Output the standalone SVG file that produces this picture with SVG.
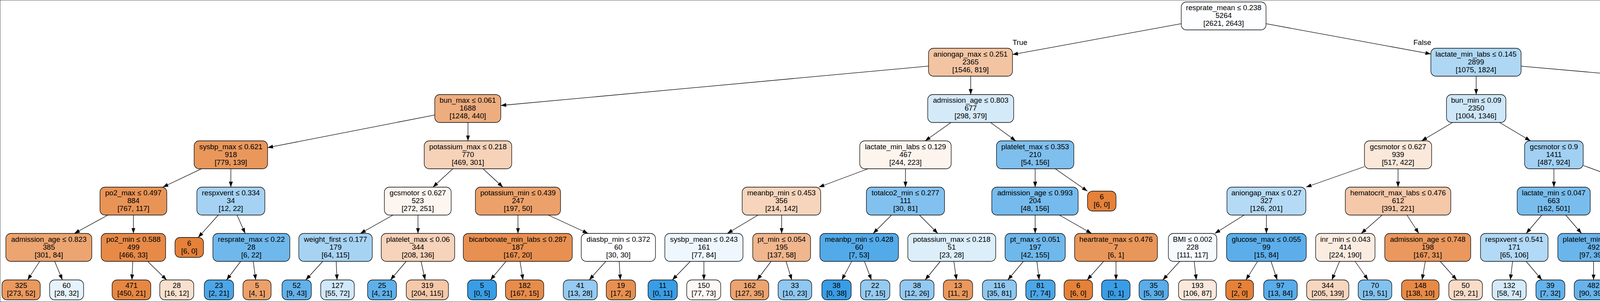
<svg xmlns="http://www.w3.org/2000/svg" width="6077" height="773" viewBox="0 0 6077 773">
<style>
rect{stroke:#000;stroke-width:1.3}
text{font-family:"Liberation Sans",Arial,Helvetica,sans-serif;font-size:18.7px;text-anchor:middle;fill:#000}
#edges line{stroke:#000;stroke-width:1.3;marker-end:url(#ah)}
</style>
<defs>
<marker id="ah" markerUnits="userSpaceOnUse" markerWidth="14" markerHeight="10" refX="14" refY="5" orient="auto"><path d="M0,0 L14,5 L0,10 z" fill="#000"/></marker>
</defs>
<rect x="0" y="0" width="6077" height="773" fill="#fff" stroke="none"/>
<g id="edges">
<line x1="3024" y1="60.6" x2="2592" y2="139.6"/>
<line x1="3241" y1="60.7" x2="3663" y2="138.1"/>
<line x1="2377" y1="169.2" x2="1282" y2="270"/>
<line x1="2485" y1="195" x2="2485" y2="242"/>
<line x1="3779" y1="195" x2="3779" y2="242"/>
<line x1="3894" y1="169.4" x2="5051" y2="271"/>
<line x1="1113" y1="294.3" x2="685" y2="377.9"/>
<line x1="1198" y1="313.5" x2="1198" y2="360.5"/>
<line x1="2434.6" y1="313.5" x2="2368.4" y2="360.5"/>
<line x1="2535.8" y1="313.5" x2="2600.2" y2="360.5"/>
<line x1="3718.7" y1="313.5" x2="3639.3" y2="360.5"/>
<line x1="3839" y1="313.5" x2="3918" y2="360.5"/>
<line x1="5128.5" y1="313.5" x2="5128.5" y2="360.5"/>
<line x1="5206" y1="296.2" x2="5490" y2="363.9"/>
<line x1="515.7" y1="432" x2="416.8" y2="479"/>
<line x1="591" y1="432" x2="591" y2="479"/>
<line x1="1159.2" y1="432" x2="1108.3" y2="479"/>
<line x1="1236.6" y1="432" x2="1287.4" y2="479"/>
<line x1="2222.2" y1="432" x2="2096.3" y2="479"/>
<line x1="2318" y1="432" x2="2318" y2="479"/>
<line x1="2650" y1="432" x2="2650" y2="479"/>
<line x1="2701.4" y1="432" x2="2783.8" y2="489.3"/>
<line x1="3493" y1="426.5" x2="3343.5" y2="479"/>
<line x1="3579" y1="432" x2="3579" y2="479"/>
<line x1="3978" y1="432" x2="3978" y2="479"/>
<line x1="4053" y1="423.5" x2="4206" y2="479"/>
<line x1="5094" y1="432" x2="5048.5" y2="479"/>
<line x1="5163.5" y1="432" x2="5209.5" y2="479"/>
<line x1="5626" y1="432" x2="5626" y2="479"/>
<line x1="5687.6" y1="432" x2="5769.4" y2="479"/>
<line x1="276.2" y1="550.5" x2="190.3" y2="597.5"/>
<line x1="341.5" y1="550.5" x2="341.5" y2="597.5"/>
<line x1="558.9" y1="550.5" x2="507.4" y2="607.8"/>
<line x1="606.8" y1="550.5" x2="627.7" y2="597.5"/>
<line x1="1006" y1="550.5" x2="922.5" y2="597.5"/>
<line x1="1070" y1="550.5" x2="1070" y2="597.5"/>
<line x1="1326" y1="550.5" x2="1326" y2="597.5"/>
<line x1="1403.5" y1="550.5" x2="1505.5" y2="597.5"/>
<line x1="1940.6" y1="550.5" x2="1861.9" y2="597.5"/>
<line x1="2001" y1="550.5" x2="2001" y2="597.5"/>
<line x1="2282.3" y1="550.5" x2="2235.3" y2="597.5"/>
<line x1="2353.8" y1="550.5" x2="2400.8" y2="597.5"/>
<line x1="2650" y1="550.5" x2="2650" y2="597.5"/>
<line x1="2712.1" y1="550.5" x2="2794.4" y2="597.5"/>
<line x1="3185" y1="550.5" x2="3110" y2="597.5"/>
<line x1="3242" y1="550.5" x2="3242" y2="597.5"/>
<line x1="3538.3" y1="550.5" x2="3484.7" y2="597.5"/>
<line x1="3601.9" y1="550.5" x2="3632.1" y2="597.5"/>
<line x1="3947" y1="550.5" x2="3907" y2="597.5"/>
<line x1="4008.3" y1="550.5" x2="4048.7" y2="597.5"/>
<line x1="4304.5" y1="550.5" x2="4304.5" y2="597.5"/>
<line x1="4377.8" y1="550.5" x2="4474.2" y2="597.5"/>
<line x1="4950.3" y1="550.5" x2="4866.7" y2="597.5"/>
<line x1="5017.9" y1="550.5" x2="5023.1" y2="597.5"/>
<line x1="5240.4" y1="550.5" x2="5235.1" y2="597.5"/>
<line x1="5310.1" y1="550.5" x2="5396.4" y2="597.5"/>
<line x1="5626" y1="550.5" x2="5626" y2="607.8"/>
<line x1="5655" y1="550.5" x2="5701.3" y2="607.8"/>
<line x1="5829.4" y1="550.5" x2="5826" y2="607.8"/>
<line x1="5871.9" y1="550.5" x2="5925.1" y2="597.5"/>
<line x1="101.7" y1="669" x2="70.6" y2="716.5"/>
<line x1="140" y1="669" x2="159.8" y2="716.5"/>
<line x1="339.9" y1="669" x2="337.7" y2="716.5"/>
<line x1="378" y1="669" x2="426.5" y2="716.5"/>
<line x1="616.2" y1="669" x2="580" y2="716.5"/>
<line x1="648.3" y1="669" x2="654.6" y2="716.5"/>
<line x1="826.3" y1="669" x2="782.8" y2="716.5"/>
<line x1="860.6" y1="669" x2="862.8" y2="716.5"/>
<line x1="1039.8" y1="669" x2="999.6" y2="716.5"/>
<line x1="1077.9" y1="669" x2="1088.4" y2="716.5"/>
<line x1="1295.4" y1="669" x2="1255.5" y2="716.5"/>
<line x1="1331.3" y1="669" x2="1338.9" y2="716.5"/>
<line x1="1550.9" y1="669" x2="1508.4" y2="716.5"/>
<line x1="1585.1" y1="669" x2="1588" y2="716.5"/>
<line x1="1767.3" y1="669" x2="1721.2" y2="716.5"/>
<line x1="1802" y1="669" x2="1802" y2="716.5"/>
<line x1="1974" y1="669" x2="1938.2" y2="716.5"/>
<line x1="2012.2" y1="669" x2="2027" y2="716.5"/>
<line x1="2180.4" y1="669" x2="2155.1" y2="716.5"/>
<line x1="2213" y1="669" x2="2230.9" y2="716.5"/>
<line x1="2407.2" y1="669" x2="2368.4" y2="716.5"/>
<line x1="2441.8" y1="669" x2="2448.7" y2="716.5"/>
<line x1="2619.9" y1="669" x2="2580" y2="716.5"/>
<line x1="2654.4" y1="669" x2="2660.3" y2="716.5"/>
<line x1="2825.3" y1="669" x2="2783.1" y2="716.5"/>
<line x1="2857" y1="669" x2="2857" y2="716.5"/>
<line x1="3020.3" y1="669" x2="2976.8" y2="716.5"/>
<line x1="3057.1" y1="669" x2="3062.6" y2="716.5"/>
<line x1="3219.5" y1="669" x2="3189.6" y2="716.5"/>
<line x1="3253.8" y1="669" x2="3269.6" y2="716.5"/>
<line x1="3429.2" y1="669" x2="3409.6" y2="716.5"/>
<line x1="3469" y1="669" x2="3502.2" y2="716.5"/>
<line x1="3648.8" y1="669" x2="3640.5" y2="716.5"/>
<line x1="3686.9" y1="669" x2="3729.3" y2="716.5"/>
<line x1="3872.2" y1="669" x2="3866.5" y2="716.5"/>
<line x1="3906.9" y1="669" x2="3947.3" y2="716.5"/>
<line x1="4079.5" y1="669" x2="4079.5" y2="716.5"/>
<line x1="4115.5" y1="669" x2="4163.3" y2="716.5"/>
<line x1="4299.7" y1="669" x2="4293.4" y2="716.5"/>
<line x1="4333.8" y1="669" x2="4372.6" y2="716.5"/>
<line x1="4538.5" y1="669" x2="4526.4" y2="716.5"/>
<line x1="4582" y1="669" x2="4627.9" y2="716.5"/>
<line x1="4796.6" y1="669" x2="4788.1" y2="716.5"/>
<line x1="4828" y1="669" x2="4861.2" y2="716.5"/>
<line x1="5024.9" y1="669" x2="5022" y2="716.5"/>
<line x1="5056.9" y1="669" x2="5096.7" y2="716.5"/>
<line x1="5228.5" y1="669" x2="5225.3" y2="716.5"/>
<line x1="5260.8" y1="669" x2="5300.3" y2="716.5"/>
<line x1="5453.6" y1="669" x2="5442.5" y2="716.5"/>
<line x1="5485.5" y1="669" x2="5516.7" y2="716.5"/>
<line x1="5946.1" y1="669" x2="5920.3" y2="716.5"/>
<line x1="5984.6" y1="669" x2="6009.9" y2="716.5"/>
<text x="2611" y="115">True</text>
<text x="3641" y="115">False</text>
</g>
<g id="n0"><rect x="3024" y="5" width="217" height="71.5" rx="13" fill="#fdfeff"/><text><tspan x="3132.5" y="26">resprate_mean ≤ 0.238</tspan><tspan x="3132.5" y="46">5264</tspan><tspan x="3132.5" y="66">[2621, 2643]</tspan></text></g>
<g id="n1"><rect x="2377" y="123.5" width="215" height="71.5" rx="13" fill="#f3c4a2"/><text><tspan x="2484.5" y="144.5">aniongap_max ≤ 0.251</tspan><tspan x="2484.5" y="164.5">2365</tspan><tspan x="2484.5" y="184.5">[1546, 819]</tspan></text></g>
<g id="n2"><rect x="3663" y="123.5" width="231" height="71.5" rx="13" fill="#aed7f4"/><text><tspan x="3778.5" y="144.5">lactate_min_labs ≤ 0.145</tspan><tspan x="3778.5" y="164.5">2899</tspan><tspan x="3778.5" y="184.5">[1075, 1824]</tspan></text></g>
<g id="n3"><rect x="1113" y="242" width="169" height="71.5" rx="13" fill="#eead7f"/><text><tspan x="1197.5" y="263">bun_max ≤ 0.061</tspan><tspan x="1197.5" y="283">1688</tspan><tspan x="1197.5" y="303">[1248, 440]</tspan></text></g>
<g id="n4"><rect x="2375" y="242" width="220" height="71.5" rx="13" fill="#d5eaf9"/><text><tspan x="2485" y="263">admission_age ≤ 0.803</tspan><tspan x="2485" y="283">677</tspan><tspan x="2485" y="303">[298, 379]</tspan></text></g>
<g id="n5"><rect x="3703" y="242" width="152" height="71.5" rx="13" fill="#cde6f8"/><text><tspan x="3779" y="263">bun_min ≤ 0.09</tspan><tspan x="3779" y="283">2350</tspan><tspan x="3779" y="303">[1004, 1346]</tspan></text></g>
<g id="n6"><rect x="5051" y="242" width="155" height="71.5" rx="13" fill="#56ace9"/><text><tspan x="5128.5" y="263">ptt_min ≤ 0.142</tspan><tspan x="5128.5" y="283">549</tspan><tspan x="5128.5" y="303">[71, 478]</tspan></text></g>
<g id="n7"><rect x="497" y="360.5" width="188" height="71.5" rx="13" fill="#ea975c"/><text><tspan x="591" y="381.5">sysbp_max ≤ 0.621</tspan><tspan x="591" y="401.5">918</tspan><tspan x="591" y="421.5">[779, 139]</tspan></text></g>
<g id="n8"><rect x="1086" y="360.5" width="224" height="71.5" rx="13" fill="#f6d2b8"/><text><tspan x="1198" y="381.5">potassium_max ≤ 0.218</tspan><tspan x="1198" y="401.5">770</tspan><tspan x="1198" y="421.5">[469, 301]</tspan></text></g>
<g id="n9"><rect x="2201" y="360.5" width="234" height="71.5" rx="13" fill="#fdf4ee"/><text><tspan x="2318" y="381.5">lactate_min_labs ≤ 0.129</tspan><tspan x="2318" y="401.5">467</tspan><tspan x="2318" y="421.5">[244, 223]</tspan></text></g>
<g id="n10"><rect x="2551" y="360.5" width="198" height="71.5" rx="13" fill="#7ebfee"/><text><tspan x="2650" y="381.5">platelet_max ≤ 0.353</tspan><tspan x="2650" y="401.5">210</tspan><tspan x="2650" y="421.5">[54, 156]</tspan></text></g>
<g id="n11"><rect x="3493" y="360.5" width="172" height="71.5" rx="13" fill="#fae8db"/><text><tspan x="3579" y="381.5">gcsmotor ≤ 0.627</tspan><tspan x="3579" y="401.5">939</tspan><tspan x="3579" y="421.5">[517, 422]</tspan></text></g>
<g id="n12"><rect x="3903" y="360.5" width="150" height="71.5" rx="13" fill="#a1d0f3"/><text><tspan x="3978" y="381.5">gcsmotor ≤ 0.9</tspan><tspan x="3978" y="401.5">1411</tspan><tspan x="3978" y="421.5">[487, 924]</tspan></text></g>
<g id="n13"><rect x="5029" y="360.5" width="199" height="71.5" rx="13" fill="#70b8ec"/><text><tspan x="5128.5" y="381.5">platelet_max ≤ 0.181</tspan><tspan x="5128.5" y="401.5">238</tspan><tspan x="5128.5" y="421.5">[52, 186]</tspan></text></g>
<g id="n14"><rect x="5490" y="360.5" width="271" height="71.5" rx="13" fill="#46a3e7"/><text><tspan x="5625.5" y="381.5">hematocrit_max_labs ≤ 0.111</tspan><tspan x="5625.5" y="401.5">311</tspan><tspan x="5625.5" y="421.5">[19, 292]</tspan></text></g>
<g id="n15"><rect x="256" y="479" width="171" height="71.5" rx="13" fill="#e99457"/><text><tspan x="341.5" y="500">po2_max ≤ 0.497</tspan><tspan x="341.5" y="520">884</tspan><tspan x="341.5" y="540">[767, 117]</tspan></text></g>
<g id="n16"><rect x="504" y="479" width="174" height="71.5" rx="13" fill="#a5d2f3"/><text><tspan x="591" y="500">respxvent ≤ 0.334</tspan><tspan x="591" y="520">34</tspan><tspan x="591" y="540">[12, 22]</tspan></text></g>
<g id="n17"><rect x="984" y="479" width="171" height="71.5" rx="13" fill="#fdf5f0"/><text><tspan x="1069.5" y="500">gcsmotor ≤ 0.627</tspan><tspan x="1069.5" y="520">523</tspan><tspan x="1069.5" y="540">[272, 251]</tspan></text></g>
<g id="n18"><rect x="1217" y="479" width="218" height="71.5" rx="13" fill="#eca16b"/><text><tspan x="1326" y="500">potassium_min ≤ 0.439</tspan><tspan x="1326" y="520">247</tspan><tspan x="1326" y="540">[197, 50]</tspan></text></g>
<g id="n19"><rect x="1900" y="479" width="201" height="71.5" rx="13" fill="#f6d5bc"/><text><tspan x="2000.5" y="500">meanbp_min ≤ 0.453</tspan><tspan x="2000.5" y="520">356</tspan><tspan x="2000.5" y="540">[214, 142]</tspan></text></g>
<g id="n20"><rect x="2218" y="479" width="200" height="71.5" rx="13" fill="#82c1ef"/><text><tspan x="2318" y="500">totalco2_min ≤ 0.277</tspan><tspan x="2318" y="520">111</tspan><tspan x="2318" y="540">[30, 81]</tspan></text></g>
<g id="n21"><rect x="2539" y="479" width="221" height="71.5" rx="13" fill="#76bbed"/><text><tspan x="2649.5" y="500">admission_age ≤ 0.993</tspan><tspan x="2649.5" y="520">204</tspan><tspan x="2649.5" y="540">[48, 156]</tspan></text></g>
<g id="n22"><rect x="2784" y="489.25" width="73" height="51" rx="13" fill="#e58139"/><text><tspan x="2820.5" y="510">6</tspan><tspan x="2820.5" y="530">[6, 0]</tspan></text></g>
<g id="n23"><rect x="3141" y="479" width="202" height="71.5" rx="13" fill="#b5daf5"/><text><tspan x="3242" y="500">aniongap_max ≤ 0.27</tspan><tspan x="3242" y="520">327</tspan><tspan x="3242" y="540">[126, 201]</tspan></text></g>
<g id="n24"><rect x="3444" y="479" width="270" height="71.5" rx="13" fill="#f4c8a9"/><text><tspan x="3579" y="500">hematocrit_max_labs ≤ 0.476</tspan><tspan x="3579" y="520">612</tspan><tspan x="3579" y="540">[391, 221]</tspan></text></g>
<g id="n25"><rect x="3884" y="479" width="187" height="71.5" rx="13" fill="#79bded"/><text><tspan x="3977.5" y="500">lactate_min ≤ 0.047</tspan><tspan x="3977.5" y="520">663</tspan><tspan x="3977.5" y="540">[162, 501]</tspan></text></g>
<g id="n26"><rect x="4201" y="479" width="207" height="71.5" rx="13" fill="#d1e8f9"/><text><tspan x="4304.5" y="500">meanbp_mean ≤ 0.24</tspan><tspan x="4304.5" y="520">748</tspan><tspan x="4304.5" y="540">[325, 423]</tspan></text></g>
<g id="n27"><rect x="4904" y="479" width="220" height="71.5" rx="13" fill="#52a9e8"/><text><tspan x="5014" y="500">admission_age ≤ 0.456</tspan><tspan x="5014" y="520">123</tspan><tspan x="5014" y="540">[14, 109]</tspan></text></g>
<g id="n28"><rect x="5148" y="479" width="193" height="71.5" rx="13" fill="#9bcdf2"/><text><tspan x="5244.5" y="500">platelet_min ≤ 0.184</tspan><tspan x="5244.5" y="520">115</tspan><tspan x="5244.5" y="540">[38, 77]</tspan></text></g>
<g id="n29"><rect x="5530" y="479" width="192" height="71.5" rx="13" fill="#eeab7b"/><text><tspan x="5626" y="500">spo2_mean ≤ 0.983</tspan><tspan x="5626" y="520">4</tspan><tspan x="5626" y="540">[3, 1]</tspan></text></g>
<g id="n30"><rect x="5747" y="479" width="169" height="71.5" rx="13" fill="#44a2e6"/><text><tspan x="5831.5" y="500">pco2_max ≤ 0.01</tspan><tspan x="5831.5" y="520">307</tspan><tspan x="5831.5" y="540">[16, 291]</tspan></text></g>
<g id="n31"><rect x="15" y="597.5" width="220" height="71.5" rx="13" fill="#eca470"/><text><tspan x="125" y="618.5">admission_age ≤ 0.823</tspan><tspan x="125" y="638.5">385</tspan><tspan x="125" y="658.5">[301, 84]</tspan></text></g>
<g id="n32"><rect x="259" y="597.5" width="165" height="71.5" rx="13" fill="#e78a47"/><text><tspan x="341.5" y="618.5">po2_min ≤ 0.588</tspan><tspan x="341.5" y="638.5">499</tspan><tspan x="341.5" y="658.5">[466, 33]</tspan></text></g>
<g id="n33"><rect x="448" y="607.75" width="73" height="51" rx="13" fill="#e58139"/><text><tspan x="484.5" y="628.5">6</tspan><tspan x="484.5" y="648.5">[6, 0]</tspan></text></g>
<g id="n34"><rect x="545" y="597.5" width="197" height="71.5" rx="13" fill="#6fb8ec"/><text><tspan x="643.5" y="618.5">resprate_max ≤ 0.22</tspan><tspan x="643.5" y="638.5">28</tspan><tspan x="643.5" y="658.5">[6, 22]</tspan></text></g>
<g id="n35"><rect x="765" y="597.5" width="188" height="71.5" rx="13" fill="#a7d3f3"/><text><tspan x="859" y="618.5">weight_first ≤ 0.177</tspan><tspan x="859" y="638.5">179</tspan><tspan x="859" y="658.5">[64, 115]</tspan></text></g>
<g id="n36"><rect x="976" y="597.5" width="188" height="71.5" rx="13" fill="#f6d3ba"/><text><tspan x="1070" y="618.5">platelet_max ≤ 0.06</tspan><tspan x="1070" y="638.5">344</tspan><tspan x="1070" y="658.5">[208, 136]</tspan></text></g>
<g id="n37"><rect x="1186" y="597.5" width="279" height="71.5" rx="13" fill="#e89051"/><text><tspan x="1325.5" y="618.5">bicarbonate_min_labs ≤ 0.287</tspan><tspan x="1325.5" y="638.5">187</tspan><tspan x="1325.5" y="658.5">[167, 20]</tspan></text></g>
<g id="n38"><rect x="1488" y="597.5" width="190" height="71.5" rx="13" fill="#ffffff"/><text><tspan x="1583" y="618.5">diasbp_min ≤ 0.372</tspan><tspan x="1583" y="638.5">60</tspan><tspan x="1583" y="658.5">[30, 30]</tspan></text></g>
<g id="n39"><rect x="1702" y="597.5" width="200" height="71.5" rx="13" fill="#eef7fd"/><text><tspan x="1802" y="618.5">sysbp_mean ≤ 0.243</tspan><tspan x="1802" y="638.5">161</tspan><tspan x="1802" y="658.5">[77, 84]</tspan></text></g>
<g id="n40"><rect x="1927" y="597.5" width="148" height="71.5" rx="13" fill="#f0b68d"/><text><tspan x="2001" y="618.5">pt_min ≤ 0.054</tspan><tspan x="2001" y="638.5">195</tspan><tspan x="2001" y="658.5">[137, 58]</tspan></text></g>
<g id="n41"><rect x="2099" y="597.5" width="201" height="71.5" rx="13" fill="#53aae8"/><text><tspan x="2199.5" y="618.5">meanbp_min ≤ 0.428</tspan><tspan x="2199.5" y="638.5">60</tspan><tspan x="2199.5" y="658.5">[7, 53]</tspan></text></g>
<g id="n42"><rect x="2324" y="597.5" width="225" height="71.5" rx="13" fill="#dceefa"/><text><tspan x="2436.5" y="618.5">potassium_max ≤ 0.218</tspan><tspan x="2436.5" y="638.5">51</tspan><tspan x="2436.5" y="658.5">[23, 28]</tspan></text></g>
<g id="n43"><rect x="2573" y="597.5" width="154" height="71.5" rx="13" fill="#6fb8ec"/><text><tspan x="2650" y="618.5">pt_max ≤ 0.051</tspan><tspan x="2650" y="638.5">197</tspan><tspan x="2650" y="658.5">[42, 155]</tspan></text></g>
<g id="n44"><rect x="2751" y="597.5" width="212" height="71.5" rx="13" fill="#e9965a"/><text><tspan x="2857" y="618.5">heartrate_max ≤ 0.476</tspan><tspan x="2857" y="638.5">7</tspan><tspan x="2857" y="658.5">[6, 1]</tspan></text></g>
<g id="n45"><rect x="2991" y="597.5" width="124" height="71.5" rx="13" fill="#f5fafe"/><text><tspan x="3053" y="618.5">BMI ≤ 0.002</tspan><tspan x="3053" y="638.5">228</tspan><tspan x="3053" y="658.5">[111, 117]</tspan></text></g>
<g id="n46"><rect x="3140" y="597.5" width="204" height="71.5" rx="13" fill="#5caeea"/><text><tspan x="3242" y="618.5">glucose_max ≤ 0.055</tspan><tspan x="3242" y="638.5">99</tspan><tspan x="3242" y="658.5">[15, 84]</tspan></text></g>
<g id="n47"><rect x="3368" y="597.5" width="152" height="71.5" rx="13" fill="#fbece1"/><text><tspan x="3444" y="618.5">inr_min ≤ 0.043</tspan><tspan x="3444" y="638.5">414</tspan><tspan x="3444" y="658.5">[224, 190]</tspan></text></g>
<g id="n48"><rect x="3545" y="597.5" width="220" height="71.5" rx="13" fill="#ea985e"/><text><tspan x="3655" y="618.5">admission_age ≤ 0.748</tspan><tspan x="3655" y="638.5">198</tspan><tspan x="3655" y="658.5">[167, 31]</tspan></text></g>
<g id="n49"><rect x="3790" y="597.5" width="173" height="71.5" rx="13" fill="#b2d9f5"/><text><tspan x="3876.5" y="618.5">respxvent ≤ 0.541</tspan><tspan x="3876.5" y="638.5">171</tspan><tspan x="3876.5" y="658.5">[65, 106]</tspan></text></g>
<g id="n50"><rect x="3988" y="597.5" width="183" height="71.5" rx="13" fill="#6ab5eb"/><text><tspan x="4079.5" y="618.5">platelet_min ≤ 0.46</tspan><tspan x="4079.5" y="638.5">492</tspan><tspan x="4079.5" y="658.5">[97, 395]</tspan></text></g>
<g id="n51"><rect x="4195" y="597.5" width="219" height="71.5" rx="13" fill="#64b2eb"/><text><tspan x="4304.5" y="618.5">meanbp_mean ≤ 0.138</tspan><tspan x="4304.5" y="638.5">118</tspan><tspan x="4304.5" y="658.5">[21, 97]</tspan></text></g>
<g id="n52"><rect x="4438" y="597.5" width="219" height="71.5" rx="13" fill="#f2f8fd"/><text><tspan x="4547.5" y="618.5">resprate_mean ≤ 0.431</tspan><tspan x="4547.5" y="638.5">630</tspan><tspan x="4547.5" y="658.5">[304, 326]</tspan></text></g>
<g id="n53"><rect x="4680" y="597.5" width="246" height="71.5" rx="13" fill="#a3d1f3"/><text><tspan x="4803" y="618.5">sodium_max_labs ≤ 0.541</tspan><tspan x="4803" y="638.5">23</tspan><tspan x="4803" y="658.5">[8, 15]</tspan></text></g>
<g id="n54"><rect x="4950" y="597.5" width="154" height="71.5" rx="13" fill="#46a3e7"/><text><tspan x="5027" y="618.5">ptt_min ≤ 0.141</tspan><tspan x="5027" y="638.5">100</tspan><tspan x="5027" y="658.5">[6, 94]</tspan></text></g>
<g id="n55"><rect x="5128" y="597.5" width="206" height="71.5" rx="13" fill="#f8e0ce"/><text><tspan x="5231" y="618.5">resprate_max ≤ 0.398</tspan><tspan x="5231" y="638.5">35</tspan><tspan x="5231" y="658.5">[20, 15]</tspan></text></g>
<g id="n56"><rect x="5359" y="597.5" width="206" height="71.5" rx="13" fill="#72b9ed"/><text><tspan x="5462" y="618.5">heartrate_min ≤ 0.629</tspan><tspan x="5462" y="638.5">80</tspan><tspan x="5462" y="658.5">[18, 62]</tspan></text></g>
<g id="n57"><rect x="5589" y="607.75" width="73" height="51" rx="13" fill="#e58139"/><text><tspan x="5625.5" y="628.5">3</tspan><tspan x="5625.5" y="648.5">[3, 0]</tspan></text></g>
<g id="n58"><rect x="5686" y="607.75" width="72" height="51" rx="13" fill="#399de5"/><text><tspan x="5722" y="628.5">1</tspan><tspan x="5722" y="648.5">[0, 1]</tspan></text></g>
<g id="n59"><rect x="5788" y="607.75" width="73" height="51" rx="13" fill="#e58139"/><text><tspan x="5824.5" y="628.5">1</tspan><tspan x="5824.5" y="648.5">[1, 0]</tspan></text></g>
<g id="n60"><rect x="5884" y="597.5" width="163" height="71.5" rx="13" fill="#43a2e6"/><text><tspan x="5965.5" y="618.5">gcseyes ≤ 0.588</tspan><tspan x="5965.5" y="638.5">306</tspan><tspan x="5965.5" y="658.5">[15, 291]</tspan></text></g>
<g id="l1"><rect x="5" y="716.5" width="98" height="51" rx="13" fill="#ea995f"/><text><tspan x="54" y="737.3">325</tspan><tspan x="54" y="757.3">[273, 52]</tspan></text></g>
<g id="l2"><rect x="127" y="716.5" width="87" height="51" rx="13" fill="#e6f3fc"/><text><tspan x="170.5" y="737.3">60</tspan><tspan x="170.5" y="757.3">[28, 32]</tspan></text></g>
<g id="l3"><rect x="287" y="716.5" width="99" height="51" rx="13" fill="#e68742"/><text><tspan x="336.5" y="737.3">471</tspan><tspan x="336.5" y="757.3">[450, 21]</tspan></text></g>
<g id="l4"><rect x="409" y="716.5" width="87" height="51" rx="13" fill="#f8e0ce"/><text><tspan x="452.5" y="737.3">28</tspan><tspan x="452.5" y="757.3">[16, 12]</tspan></text></g>
<g id="l5"><rect x="523" y="716.5" width="75" height="51" rx="13" fill="#4ca6e7"/><text><tspan x="560.5" y="737.3">23</tspan><tspan x="560.5" y="757.3">[2, 21]</tspan></text></g>
<g id="l6"><rect x="622" y="716.5" width="72" height="51" rx="13" fill="#eca06a"/><text><tspan x="658" y="737.3">5</tspan><tspan x="658" y="757.3">[4, 1]</tspan></text></g>
<g id="l7"><rect x="722" y="716.5" width="75" height="51" rx="13" fill="#62b1ea"/><text><tspan x="759.5" y="737.3">52</tspan><tspan x="759.5" y="757.3">[9, 43]</tspan></text></g>
<g id="l8"><rect x="821" y="716.5" width="86" height="51" rx="13" fill="#d0e8f9"/><text><tspan x="864" y="737.3">127</tspan><tspan x="864" y="757.3">[55, 72]</tspan></text></g>
<g id="l9"><rect x="941" y="716.5" width="74" height="51" rx="13" fill="#5fb0ea"/><text><tspan x="978" y="737.3">25</tspan><tspan x="978" y="757.3">[4, 21]</tspan></text></g>
<g id="l10"><rect x="1040" y="716.5" width="108" height="51" rx="13" fill="#f4c8a9"/><text><tspan x="1094" y="737.3">319</tspan><tspan x="1094" y="757.3">[204, 115]</tspan></text></g>
<g id="l11"><rect x="1197" y="716.5" width="74" height="51" rx="13" fill="#399de5"/><text><tspan x="1234" y="737.3">5</tspan><tspan x="1234" y="757.3">[0, 5]</tspan></text></g>
<g id="l12"><rect x="1294" y="716.5" width="98" height="51" rx="13" fill="#e78c4b"/><text><tspan x="1343" y="737.3">182</tspan><tspan x="1343" y="757.3">[167, 15]</tspan></text></g>
<g id="l13"><rect x="1442" y="716.5" width="87" height="51" rx="13" fill="#95caf1"/><text><tspan x="1485.5" y="737.3">41</tspan><tspan x="1485.5" y="757.3">[13, 28]</tspan></text></g>
<g id="l14"><rect x="1552" y="716.5" width="75" height="51" rx="13" fill="#e89050"/><text><tspan x="1589.5" y="737.3">19</tspan><tspan x="1589.5" y="757.3">[17, 2]</tspan></text></g>
<g id="l15"><rect x="1659" y="716.5" width="75" height="51" rx="13" fill="#399de5"/><text><tspan x="1696.5" y="737.3">11</tspan><tspan x="1696.5" y="757.3">[0, 11]</tspan></text></g>
<g id="l16"><rect x="1758" y="716.5" width="87" height="51" rx="13" fill="#fef8f5"/><text><tspan x="1801.5" y="737.3">150</tspan><tspan x="1801.5" y="757.3">[77, 73]</tspan></text></g>
<g id="l17"><rect x="1870" y="716.5" width="98" height="51" rx="13" fill="#eca470"/><text><tspan x="1919" y="737.3">162</tspan><tspan x="1919" y="757.3">[127, 35]</tspan></text></g>
<g id="l18"><rect x="1992" y="716.5" width="86" height="51" rx="13" fill="#8fc8f0"/><text><tspan x="2035" y="737.3">33</tspan><tspan x="2035" y="757.3">[10, 23]</tspan></text></g>
<g id="l19"><rect x="2104" y="716.5" width="75" height="51" rx="13" fill="#399de5"/><text><tspan x="2141.5" y="737.3">38</tspan><tspan x="2141.5" y="757.3">[0, 38]</tspan></text></g>
<g id="l20"><rect x="2203" y="716.5" width="75" height="51" rx="13" fill="#95cbf1"/><text><tspan x="2240.5" y="737.3">22</tspan><tspan x="2240.5" y="757.3">[7, 15]</tspan></text></g>
<g id="l21"><rect x="2304" y="716.5" width="87" height="51" rx="13" fill="#94caf1"/><text><tspan x="2347.5" y="737.3">38</tspan><tspan x="2347.5" y="757.3">[12, 26]</tspan></text></g>
<g id="l22"><rect x="2415" y="716.5" width="75" height="51" rx="13" fill="#ea985d"/><text><tspan x="2452.5" y="737.3">13</tspan><tspan x="2452.5" y="757.3">[11, 2]</tspan></text></g>
<g id="l23"><rect x="2515" y="716.5" width="87" height="51" rx="13" fill="#8fc7f0"/><text><tspan x="2558.5" y="737.3">116</tspan><tspan x="2558.5" y="757.3">[35, 81]</tspan></text></g>
<g id="l24"><rect x="2626" y="716.5" width="75" height="51" rx="13" fill="#4ca6e7"/><text><tspan x="2663.5" y="737.3">81</tspan><tspan x="2663.5" y="757.3">[7, 74]</tspan></text></g>
<g id="l25"><rect x="2724" y="716.5" width="73" height="51" rx="13" fill="#e58139"/><text><tspan x="2760.5" y="737.3">6</tspan><tspan x="2760.5" y="757.3">[6, 0]</tspan></text></g>
<g id="l26"><rect x="2820" y="716.5" width="73" height="51" rx="13" fill="#399de5"/><text><tspan x="2856.5" y="737.3">1</tspan><tspan x="2856.5" y="757.3">[0, 1]</tspan></text></g>
<g id="l27"><rect x="2916" y="716.5" width="75" height="51" rx="13" fill="#5aade9"/><text><tspan x="2953.5" y="737.3">35</tspan><tspan x="2953.5" y="757.3">[5, 30]</tspan></text></g>
<g id="l28"><rect x="3017" y="716.5" width="97" height="51" rx="13" fill="#fae8dc"/><text><tspan x="3065.5" y="737.3">193</tspan><tspan x="3065.5" y="757.3">[106, 87]</tspan></text></g>
<g id="l29"><rect x="3138" y="716.5" width="71" height="51" rx="13" fill="#e58139"/><text><tspan x="3173.5" y="737.3">2</tspan><tspan x="3173.5" y="757.3">[2, 0]</tspan></text></g>
<g id="l30"><rect x="3235" y="716.5" width="86" height="51" rx="13" fill="#58ace9"/><text><tspan x="3278" y="737.3">97</tspan><tspan x="3278" y="757.3">[13, 84]</tspan></text></g>
<g id="l31"><rect x="3345" y="716.5" width="108" height="51" rx="13" fill="#f7d6bf"/><text><tspan x="3399" y="737.3">344</tspan><tspan x="3399" y="757.3">[205, 139]</tspan></text></g>
<g id="l32"><rect x="3477" y="716.5" width="86" height="51" rx="13" fill="#83c2ef"/><text><tspan x="3520" y="737.3">70</tspan><tspan x="3520" y="757.3">[19, 51]</tspan></text></g>
<g id="l33"><rect x="3588" y="716.5" width="96" height="51" rx="13" fill="#e78a47"/><text><tspan x="3636" y="737.3">148</tspan><tspan x="3636" y="757.3">[138, 10]</tspan></text></g>
<g id="l34"><rect x="3709" y="716.5" width="86" height="51" rx="13" fill="#f8dcc8"/><text><tspan x="3752" y="737.3">50</tspan><tspan x="3752" y="757.3">[29, 21]</tspan></text></g>
<g id="l35"><rect x="3820" y="716.5" width="87" height="51" rx="13" fill="#d4eaf9"/><text><tspan x="3863.5" y="737.3">132</tspan><tspan x="3863.5" y="757.3">[58, 74]</tspan></text></g>
<g id="l36"><rect x="3932" y="716.5" width="74" height="51" rx="13" fill="#64b2eb"/><text><tspan x="3969" y="737.3">39</tspan><tspan x="3969" y="757.3">[7, 32]</tspan></text></g>
<g id="l37"><rect x="4030" y="716.5" width="98" height="51" rx="13" fill="#66b4eb"/><text><tspan x="4079" y="737.3">482</tspan><tspan x="4079" y="757.3">[90, 392]</tspan></text></g>
<g id="l38"><rect x="4153" y="716.5" width="72" height="51" rx="13" fill="#f0b78e"/><text><tspan x="4189" y="737.3">10</tspan><tspan x="4189" y="757.3">[7, 3]</tspan></text></g>
<g id="l39"><rect x="4253" y="716.5" width="74" height="51" rx="13" fill="#efb388"/><text><tspan x="4290" y="737.3">7</tspan><tspan x="4290" y="757.3">[5, 2]</tspan></text></g>
<g id="l40"><rect x="4350" y="716.5" width="87" height="51" rx="13" fill="#5aaee9"/><text><tspan x="4393.5" y="737.3">111</tspan><tspan x="4393.5" y="757.3">[16, 95]</tspan></text></g>
<g id="l41"><rect x="4471" y="716.5" width="98" height="51" rx="13" fill="#fbe9dd"/><text><tspan x="4520" y="737.3">468</tspan><tspan x="4520" y="757.3">[256, 212]</tspan></text></g>
<g id="l42"><rect x="4604" y="716.5" width="97" height="51" rx="13" fill="#8cc6f0"/><text><tspan x="4652.5" y="737.3">162</tspan><tspan x="4652.5" y="757.3">[48, 114]</tspan></text></g>
<g id="l43"><rect x="4748" y="716.5" width="71" height="51" rx="13" fill="#f8e0ce"/><text><tspan x="4783.5" y="737.3">14</tspan><tspan x="4783.5" y="757.3">[8, 6]</tspan></text></g>
<g id="l44"><rect x="4843" y="716.5" width="72" height="51" rx="13" fill="#399de5"/><text><tspan x="4879" y="737.3">9</tspan><tspan x="4879" y="757.3">[0, 9]</tspan></text></g>
<g id="l45"><rect x="4983" y="716.5" width="75" height="51" rx="13" fill="#44a2e6"/><text><tspan x="5020.5" y="737.3">99</tspan><tspan x="5020.5" y="757.3">[5, 94]</tspan></text></g>
<g id="l46"><rect x="5082" y="716.5" width="72" height="51" rx="13" fill="#e58139"/><text><tspan x="5118" y="737.3">1</tspan><tspan x="5118" y="757.3">[1, 0]</tspan></text></g>
<g id="l47"><rect x="5186" y="716.5" width="75" height="51" rx="13" fill="#ea9c63"/><text><tspan x="5223.5" y="737.3">23</tspan><tspan x="5223.5" y="757.3">[19, 4]</tspan></text></g>
<g id="l48"><rect x="5284" y="716.5" width="75" height="51" rx="13" fill="#4ba6e7"/><text><tspan x="5321.5" y="737.3">12</tspan><tspan x="5321.5" y="757.3">[1, 11]</tspan></text></g>
<g id="l49"><rect x="5399" y="716.5" width="75" height="51" rx="13" fill="#59ade9"/><text><tspan x="5436.5" y="737.3">65</tspan><tspan x="5436.5" y="757.3">[9, 56]</tspan></text></g>
<g id="l50"><rect x="5497" y="716.5" width="73" height="51" rx="13" fill="#f6d5bd"/><text><tspan x="5533.5" y="737.3">15</tspan><tspan x="5533.5" y="757.3">[9, 6]</tspan></text></g>
<g id="l51"><rect x="5863" y="716.5" width="87" height="51" rx="13" fill="#3b9ee5"/><text><tspan x="5906.5" y="737.3">191</tspan><tspan x="5906.5" y="757.3">[2, 189]</tspan></text></g>
<g id="l52"><rect x="5975" y="716.5" width="97" height="51" rx="13" fill="#52a9e8"/><text><tspan x="6023.5" y="737.3">115</tspan><tspan x="6023.5" y="757.3">[13, 102]</tspan></text></g>
</svg>
